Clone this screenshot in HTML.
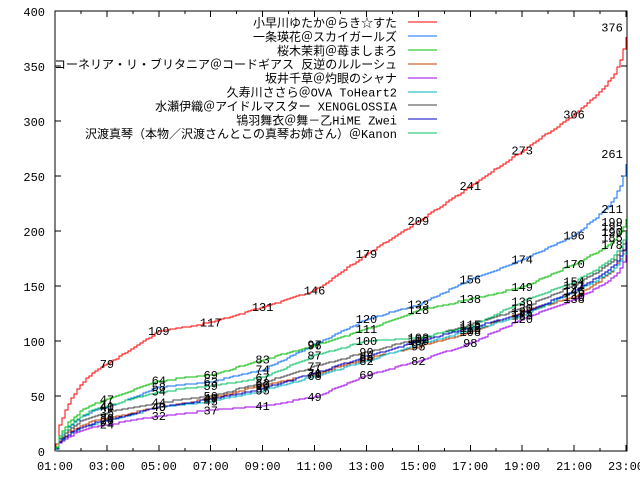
<!DOCTYPE html><html><head><meta charset="utf-8"><style>
body{margin:0;background:#fff;width:640px;height:480px;overflow:hidden}
svg text{font-family:"Liberation Mono","Noto Sans CJK JP",monospace;font-size:12px;fill:#000}
</style></head><body>
<svg id="s" width="640" height="480" xmlns="http://www.w3.org/2000/svg">
<rect x="55" y="11" width="572" height="440" fill="none" stroke="#000" stroke-width="1" shape-rendering="crispEdges"/>
<g id="ax" shape-rendering="crispEdges"></g><g id="ln" shape-rendering="crispEdges"></g><g id="lb"></g><g id="lg"></g>
</svg>
<script>
var NS="http://www.w3.org/2000/svg";
function X(t){return 55+(t-1)*571/22}
function Y(v){return 451-1.1*v}
function el(p,tag,a,txt){var e=document.createElementNS(NS,tag);for(var k in a)e.setAttribute(k,a[k]);if(txt!=null)e.textContent=txt;document.getElementById(p).appendChild(e);return e}
for(var v=0;v<=400;v+=50){el("ax","text",{x:45,y:Y(v)+5,"text-anchor":"end"},String(v));if(v>0&&v<400){el("ax","line",{x1:55,x2:61,y1:Y(v),y2:Y(v),stroke:"#000"});el("ax","line",{x1:621,x2:627,y1:Y(v),y2:Y(v),stroke:"#000"});}}
for(var h=1;h<=23;h++){var x=X(h);el("ax","line",{x1:x,x2:x,y1:451,y2:(h%2?445:448),stroke:"#000"});el("ax","line",{x1:x,x2:x,y1:11,y2:(h%2?17:14),stroke:"#000"});if(h%2)el("ax","text",{x:x,y:470,"text-anchor":"middle"},(h<10?"0":"")+h+":00");}
var S=[
["小早川ゆたか＠らき☆すた","#f00",[79,109,117,131,146,179,209,241,273,306,376]],
["一条瑛花＠スカイガールズ","#0a6cf0",[40,58,63,74,97,120,133,156,174,196,261]],
["桜木茉莉＠苺ましまろ","#0b0",[47,64,69,83,96,111,128,138,149,170,211]],
["コーネリア・リ・ブリタニア＠コードギアス 反逆のルルーシュ","#c04000",[30,40,48,60,70,84,95,108,127,140,190]],
["坂井千草＠灼眼のシャナ","#a000ee",[24,32,37,41,49,69,82,98,120,138,178]],
["久寿川ささら＠OVA ToHeart2","#00b0c0",[27,40,45,55,68,82,97,110,123,145,185]],
["水瀬伊織＠アイドルマスター XENOGLOSSIA","#404040",[35,44,50,62,77,90,102,115,130,151,195]],
["鴇羽舞衣＠舞－乙HiME Zwei","#0000c0",[28,40,47,57,71,86,100,112,125,146,190]],
["沢渡真琴（本物／沢渡さんとこの真琴お姉さん）＠Kanon","#00c060",[41,54,59,67,87,100,103,113,136,154,199]]
];
S.forEach(function(s,i){
 var a=s[2],k=[[1,0],[1.15,a[0]*0.3],[1.5,a[0]*0.55],[2,a[0]*0.78],[2.5,a[0]*0.92]];
 for(var j=0;j<10;j++)k.push([3+2*j,a[j]]);
 var d=a[10]-a[9];k.push([22,a[9]+d*0.3],[22.5,a[9]+d*0.5],[22.8,a[9]+d*0.72],[23,a[10]]);
 function f(t){for(var m=1;m<k.length;m++)if(t<=k[m][0]){var r=(t-k[m-1][0])/(k[m][0]-k[m-1][0]);return k[m-1][1]+r*(k[m][1]-k[m-1][1]);}return a[10];}
 var p="M"+X(1)+","+Y(0);
 for(var x=56;x<=626;x+=3){var t=1+(x-55)*22/571,v=Math.round(f(t));p+="H"+x+"V"+Math.round(Y(v));}
 el("ln","path",{d:p,fill:"none",stroke:s[1],"stroke-width":1});
 for(var j=0;j<11;j++){var t=3+2*j;el("lb","text",{x:X(t)-(j==10?14:0),y:Y(a[j])+(j==10?-6:4),"text-anchor":"middle"},String(a[j]));}
 var ly=22+i*13.9;
 el("lg","text",{x:397,y:ly+5,"text-anchor":"end"},s[0]);
 el("lg","line",{x1:408,x2:437,y1:Math.round(ly),y2:Math.round(ly),stroke:s[1],"shape-rendering":"crispEdges"});
});
</script>
</body></html>
